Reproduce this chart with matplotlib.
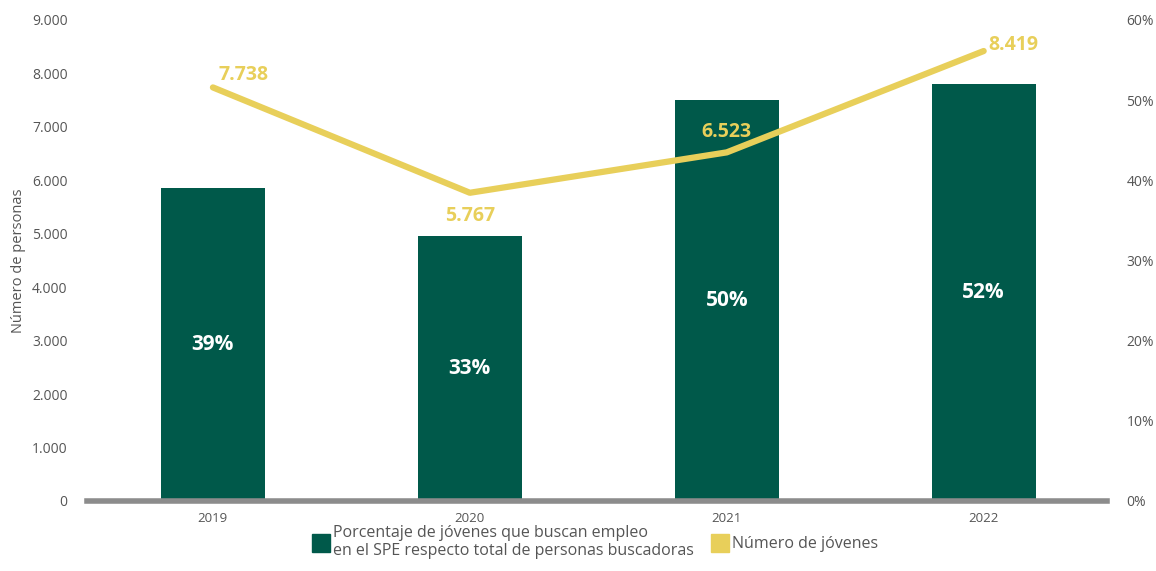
import matplotlib
matplotlib.use("Agg")
import matplotlib.pyplot as plt
from matplotlib.patches import Patch
from matplotlib.ticker import FuncFormatter

plt.rcParams['font.family'] = ['Open Sans', 'DejaVu Sans']

years = ['2019', '2020', '2021', '2022']
porcentaje = [39, 33, 50, 52]
jovenes = [7738, 5767, 6523, 8419]

GREEN = '#00594A'
YELLOW = '#E8CF5A'
GRAY = '#555555'

fig = plt.figure(figsize=(11.56, 5.71), dpi=100)
ax = fig.add_axes([0.0753, 0.1226, 0.8823, 0.8424])
ax2 = ax.twinx()

x = list(range(len(years)))

# bars on right axis (percent)
ax2.bar(x, porcentaje, width=0.405, color=GREEN, zorder=2)
for xi, p in zip(x, porcentaje):
    ax2.text(xi, p / 2, f'{p}%', ha='center', va='center', color='white',
             fontsize=15, fontweight='bold')
ax2.set_ylim(0, 60)
ax2.set_yticks(range(0, 61, 10))
ax2.yaxis.set_major_formatter(FuncFormatter(lambda v, _: f'{int(v)}%'))

# line on left axis, drawn above bars
ax.set_zorder(ax2.get_zorder() + 1)
ax.patch.set_visible(False)
ax.plot(x, jovenes, color=YELLOW, linewidth=4.5, solid_capstyle='round')
ax.set_ylim(0, 9000)
ax.set_yticks(range(0, 9001, 1000))
ax.yaxis.set_major_formatter(FuncFormatter(lambda v, _: f'{int(v):,}'.replace(',', '.')))
ax.set_xlim(-0.49, 3.48)
ax.set_xticks(x)
ax.set_xticklabels(years)
ax.set_ylabel('Número de personas', color=GRAY, fontsize=10.5, labelpad=4)

offsets = [(0.02, 40, 'left', 'bottom'), (0.0, -250, 'center', 'top'),
           (0.0, 200, 'center', 'bottom'), (0.02, 120, 'left', 'center')]
for xi, v, (dx, dy, ha, va) in zip(x, jovenes, offsets):
    ax.text(xi + dx, v + dy, f'{v:,}'.replace(',', '.'), ha=ha, va=va,
            color=YELLOW, fontsize=14, fontweight='bold')

for a in (ax, ax2):
    for s in a.spines.values():
        s.set_visible(False)
    a.tick_params(length=0, colors=GRAY, labelsize=10)
ax.tick_params(axis='y', pad=14)
ax2.tick_params(axis='y', pad=14)
ax.tick_params(axis='x', pad=8, labelsize=9.5)
ax.axhline(0, color='#8c8c8c', linewidth=4, clip_on=False)

handles = [Patch(color=GREEN, label='Porcentaje de jóvenes que buscan empleo\nen el SPE respecto total de personas buscadoras'),
           Patch(color=YELLOW, label='Número de jóvenes')]
fig.legend(handles=handles, loc='lower center', bbox_to_anchor=(0.515, -0.005), ncol=2,
           frameon=False, fontsize=11.5, handlelength=1.1, handleheight=1.3,
           handletextpad=0.2, columnspacing=1.1, labelcolor=GRAY)

fig.savefig('out.png', dpi=100)
